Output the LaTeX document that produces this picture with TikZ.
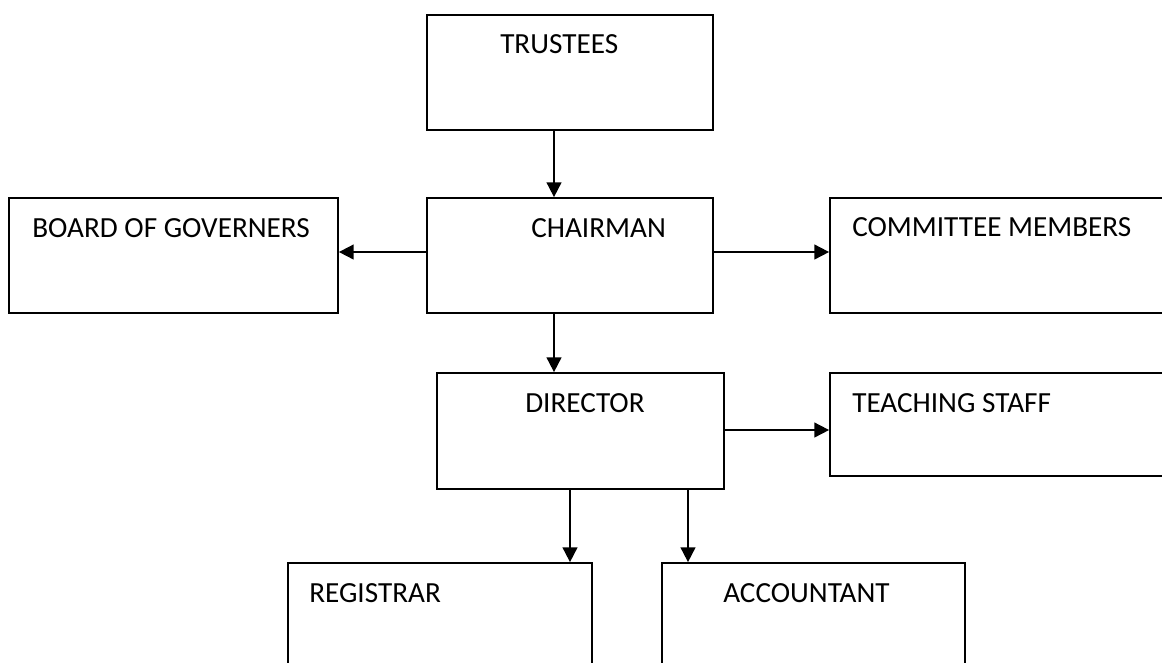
\documentclass[tikz,border=0pt]{standalone}
\usepackage{fontspec}
\setmainfont{Carlito}
\usetikzlibrary{arrows.meta}
\begin{document}
\begin{tikzpicture}[x=0.75pt,y=-0.75pt,
  box/.style={draw,line width=1.3pt,rectangle,inner sep=0pt},
  lbl/.style={anchor=base west,inner sep=0pt,font=\fontsize{21.9}{26}\selectfont},
  arr/.style={line width=1.3pt,-{Triangle[length=11pt,width=11pt]}}]
\useasboundingbox (0,0) rectangle (1162,662);
\clip (0,0) rectangle (1162,662);
% boxes
\node[box,minimum width={286*0.75pt},minimum height={115*0.75pt}] (trustees) at (570,72.5) {};
\node[box,minimum width={329*0.75pt},minimum height={115*0.75pt}] (board) at (173.5,255.5) {};
\node[box,minimum width={286*0.75pt},minimum height={115*0.75pt}] (chairman) at (570,255.5) {};
\node[box,minimum width={370*0.75pt},minimum height={115*0.75pt}] (committee) at (1015,255.5) {};
\node[box,minimum width={287*0.75pt},minimum height={116*0.75pt}] (director) at (580.5,431) {};
\node[box,minimum width={370*0.75pt},minimum height={103*0.75pt}] (teaching) at (1015,424.5) {};
\node[box,minimum width={304*0.75pt},minimum height={137*0.75pt}] (registrar) at (440,631.5) {};
\node[box,minimum width={303*0.75pt},minimum height={137*0.75pt}] (accountant) at (813.5,631.5) {};
% labels
\node[lbl] (ttrustees) at (500,53) {TRUSTEES};
\node[lbl] (tboard) at (32,237) {BOARD OF GOVERNERS};
\node[lbl] (tchairman) at (531,237) {CHAIRMAN};
\node[lbl] (tcommittee) at (852,236) {COMMITTEE MEMBERS};
\node[lbl] (tdirector) at (525,412) {DIRECTOR};
\node[lbl] (tteaching) at (852,412) {TEACHING STAFF};
\node[lbl] (tregistrar) at (309,602) {REGISTRAR};
\node[lbl] (taccountant) at (723,602) {ACCOUNTANT};
% connector guides
\coordinate (vA) at (554,0);
\coordinate (vB) at (570,0);
\coordinate (vC) at (688,0);
\coordinate (hA) at (0,252);
\coordinate (hB) at (0,430);
% connectors
\draw[arr] (trustees.south -| vA) -- (chairman.north -| vA);
\draw[arr] (chairman.west |- hA) -- (board.east |- hA);
\draw[arr] (chairman.east |- hA) -- (committee.west |- hA);
\draw[arr] (chairman.south -| vA) -- (director.north -| vA);
\draw[arr] (director.east |- hB) -- (teaching.west |- hB);
\draw[arr] (director.south -| vB) -- (registrar.north -| vB);
\draw[arr] (director.south -| vC) -- (accountant.north -| vC);
\end{tikzpicture}
\end{document}
